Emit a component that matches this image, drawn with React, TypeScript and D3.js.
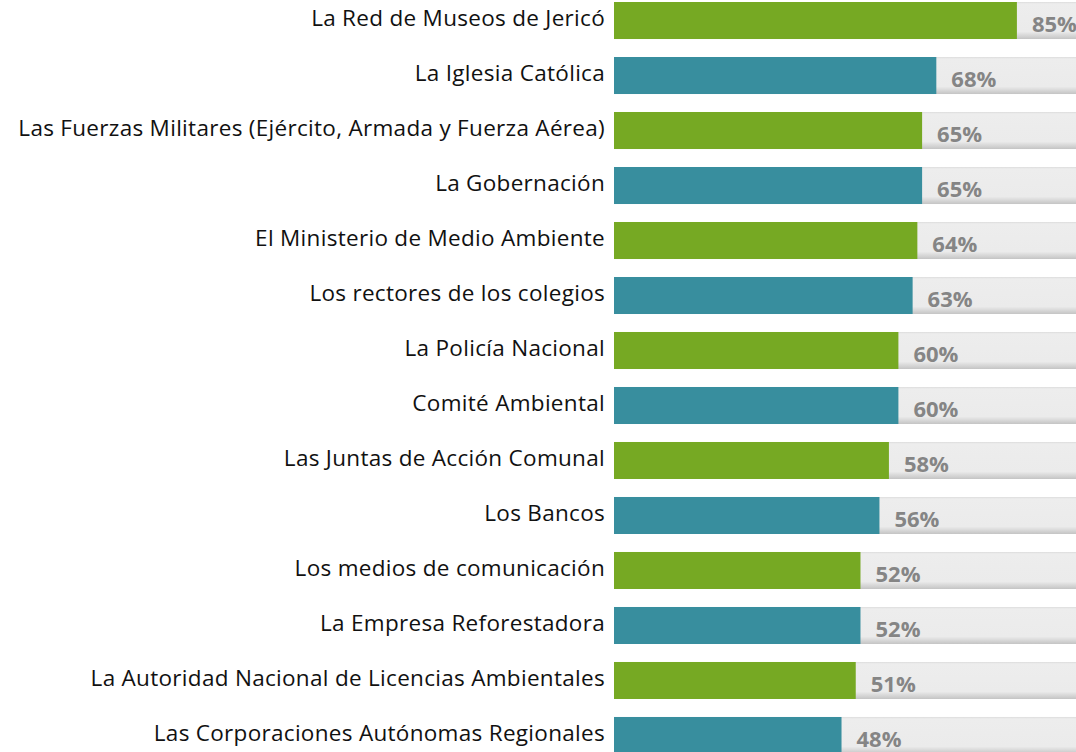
import React from 'react'
import { scaleBand, scaleLinear } from 'd3'

const categories = [
  'La Red de Museos de Jericó',
  'La Iglesia Católica',
  'Las Fuerzas Militares (Ejército, Armada y Fuerza Aérea)',
  'La Gobernación',
  'El Ministerio de Medio Ambiente',
  'Los rectores de los colegios',
  'La Policía Nacional',
  'Comité Ambiental',
  'Las Juntas de Acción Comunal',
  'Los Bancos',
  'Los medios de comunicación',
  'La Empresa Reforestadora',
  'La Autoridad Nacional de Licencias Ambientales',
  'Las Corporaciones Autónomas Regionales',
]
const values = [85, 68, 65, 65, 64, 63, 60, 60, 58, 56, 52, 52, 51, 48]
const barColors = ['#76a923', '#388e9e']

const width = 1076
const height = 752
const font = '"Open Sans", sans-serif'

function App() {
  const x = scaleLinear().domain([0, 100]).range([614, 1088])
  const y = scaleBand().domain(categories).range([2, 754]).paddingInner(0.327).paddingOuter(0)
  const bw = y.bandwidth()

  return (
    <svg width={width} height={height} style={{ position: 'absolute', left: 0, top: 0 }}>
      <defs>
        <linearGradient id="track" x1="0" y1="0" x2="0" y2="1">
          <stop offset="0" stopColor="#dcdcdc" />
          <stop offset="0.05" stopColor="#ededed" />
          <stop offset="0.8" stopColor="#ebebeb" />
          <stop offset="1" stopColor="#c4c4c4" />
        </linearGradient>
      </defs>
      {categories.map((c, i) => {
        const top = y(c) as number
        return (
          <g key={c}>
            <rect x={x(0)} y={top} width={x(100) - x(0)} height={bw} fill="url(#track)" />
            <rect x={x(0)} y={top} width={x(values[i]) - x(0)} height={bw} fill={barColors[i % 2]} />
            <text x={x(values[i]) + 15} y={top + 30} fontFamily={font} fontWeight="bold" fontSize={22} fill="#858585">
              {values[i]}%
            </text>
            <text x={605} y={top + 24} textAnchor="end" fontFamily={font} fontSize={22.5} letterSpacing={0.3} fill="#111">
              {c}
            </text>
          </g>
        )
      })}
    </svg>
  )
}

export default App
